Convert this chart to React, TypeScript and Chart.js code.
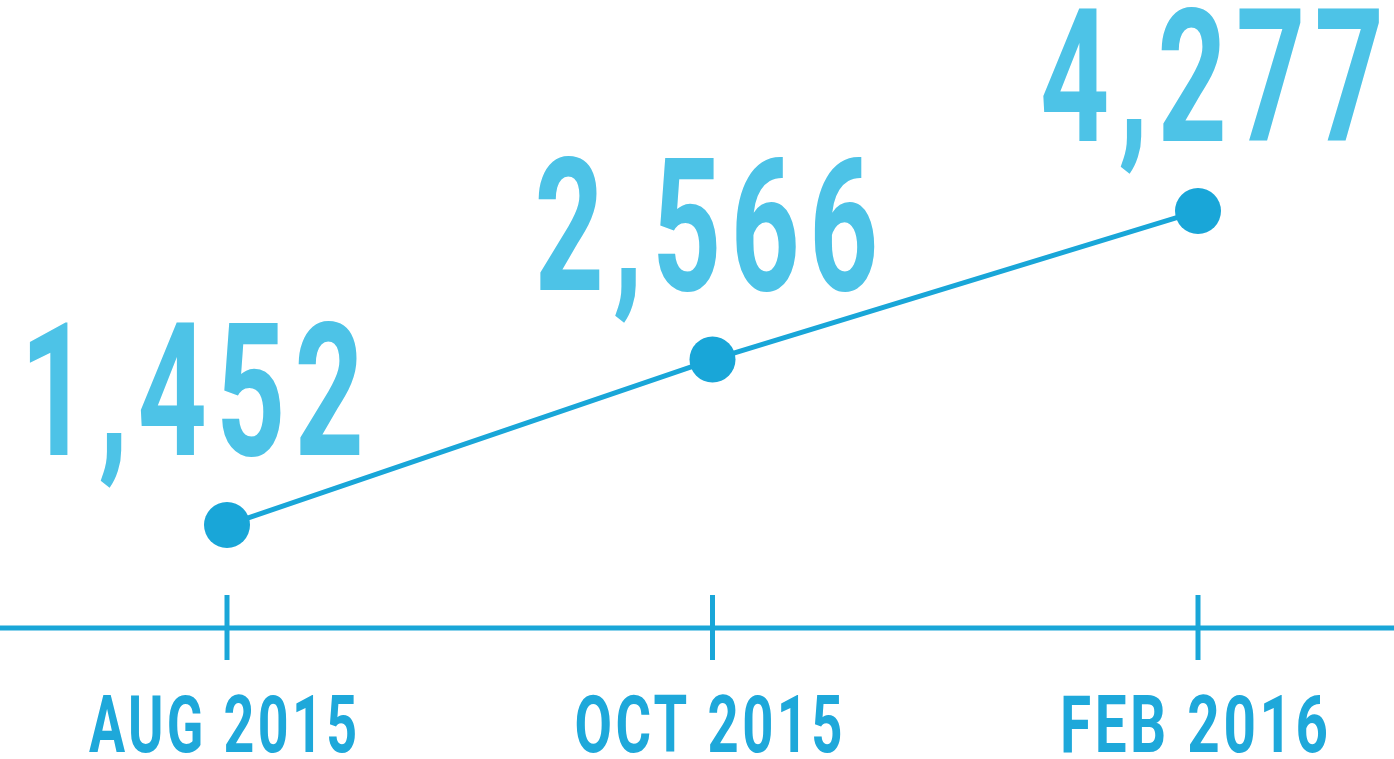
import React, { useEffect, useRef } from "react";
import { Chart, registerables } from "chart.js";

Chart.register(...registerables);

// ---- data ----
const categories = ["AUG 2015", "OCT 2015", "FEB 2016"];
const members = [1452, 2566, 4277];
const valueLabels = ["1,452", "2,566", "4,277"];

// ---- styles ----
const LINE_COLOR = "#19a6d8";
const VALUE_COLOR = "#4dc3e7";
const TICK_COLOR = "#1ea8da";
const FONT = 'Roboto, "Liberation Sans", sans-serif';
const labelShiftX = [-35, -6, 14];

function drawCondensed(ctx: any, text: string, cx: number, baseline: number, targetW: number, spacing: number) {
  ctx.letterSpacing = `${spacing}px`;
  const w = ctx.measureText(text).width - spacing;
  const sx = Math.min(1, targetW / w);
  ctx.save();
  ctx.translate(cx + (spacing * sx) / 2, baseline);
  ctx.scale(sx, 1);
  ctx.fillText(text, 0, 0);
  ctx.restore();
  ctx.letterSpacing = "0px";
}

const overlay = {
  id: "overlay",
  beforeDatasetsDraw(chart: any) {
    const ctx = chart.ctx;
    const xs = chart.scales.x;
    const axisY = chart.chartArea.bottom;
    ctx.save();
    ctx.strokeStyle = LINE_COLOR;
    ctx.lineWidth = 5;
    ctx.beginPath();
    ctx.moveTo(0, axisY);
    ctx.lineTo(chart.width, axisY);
    ctx.stroke();
    categories.forEach((_, i) => {
      const x = xs.getPixelForValue(i);
      ctx.beginPath();
      ctx.moveTo(x, axisY - 33);
      ctx.lineTo(x, axisY + 32);
      ctx.stroke();
    });
    ctx.restore();
  },
  afterDatasetsDraw(chart: any) {
    const ctx = chart.ctx;
    const xs = chart.scales.x;
    const meta = chart.getDatasetMeta(0);
    const axisY = chart.chartArea.bottom;
    ctx.save();
    ctx.textAlign = "center";
    ctx.textBaseline = "alphabetic";
    // value labels
    ctx.fillStyle = VALUE_COLOR;
    ctx.font = `bold 186px ${FONT}`;
    meta.data.forEach((pt: any, i: number) => {
      drawCondensed(ctx, valueLabels[i], pt.x + labelShiftX[i], pt.y - 70, 344, 14);
    });
    // category labels
    ctx.fillStyle = TICK_COLOR;
    ctx.font = `bold 80px ${FONT}`;
    categories.forEach((c, i) => {
      const x = xs.getPixelForValue(i);
      drawCondensed(ctx, c, x - 4, axisY + 124, 268, 5);
    });
    ctx.restore();
  },
};

export default function App() {
  const ref = useRef<HTMLCanvasElement | null>(null);
  useEffect(() => {
    if (!ref.current) return;
    const chart = new Chart(ref.current, {
      type: "line",
      data: {
        labels: categories,
        datasets: [
          {
            data: members,
            borderColor: LINE_COLOR,
            backgroundColor: LINE_COLOR,
            borderWidth: 5,
            pointRadius: 23,
            pointHoverRadius: 23,
            pointBorderWidth: 0,
            pointBackgroundColor: LINE_COLOR,
            tension: 0,
            clip: false as any,
          },
        ],
      },
      options: {
        animation: false,
        responsive: false,
        maintainAspectRatio: false,
        layout: { autoPadding: false, padding: { left: 227, right: 196, top: 0, bottom: 131 } },
        plugins: { legend: { display: false }, tooltip: { enabled: false } },
        scales: {
          x: { type: "category", display: false, offset: false },
          y: { type: "logarithmic", display: false, min: 1019, max: 8840 },
        },
      },
      plugins: [overlay],
    });
    return () => chart.destroy();
  }, []);
  return (
    <div style={{ position: "absolute", left: 0, top: 0, width: 1394, height: 759, background: "#fff" }}>
      <canvas ref={ref} width={1394} height={759} style={{ display: "block", width: 1394, height: 759 }} />
    </div>
  );
}
